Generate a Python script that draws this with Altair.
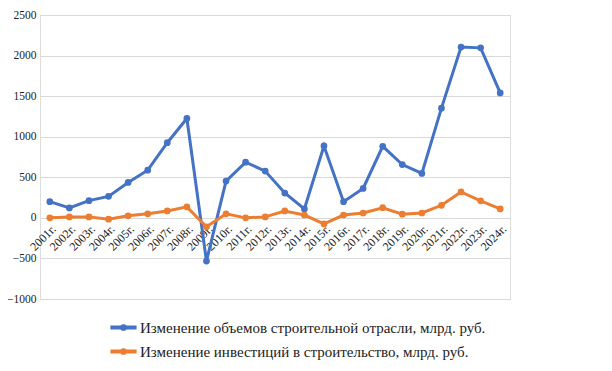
import altair as alt
import pandas as pd

years = [f"{y}г." for y in range(2001, 2025)]
construction = [200, 122, 212, 265, 436, 588, 926, 1225, -532, 453, 686, 576, 306, 110,
                886, 200, 363, 882, 657, 547, 1352, 2105, 2095, 1540]
investment = [0, 12, 12, -16, 25, 50, 85, 135, -110, 50, 0, 12, 85, 35,
              -75, 35, 60, 125, 45, 60, 155, 320, 210, 110]
series_names = ["Изменение объемов строительной отрасли, млрд. руб.",
                "Изменение инвестиций в строительство, млрд. руб."]
colors = ["#4472C4", "#ED7D31"]

rows = []
for i, y in enumerate(years):
    rows.append({"year": y, "series": series_names[0], "value": construction[i]})
    rows.append({"year": y, "series": series_names[1], "value": investment[i]})
df = pd.DataFrame(rows)

serif = "Liberation Serif"
legend_shape = ("M-1,-0.12 L1,-0.12 L1,0.12 L-1,0.12 Z "
                "M0.22,0 A0.22,0.22 0 1,1 -0.22,0 A0.22,0.22 0 1,1 0.22,0 Z")

chart = alt.Chart(df).mark_line(
    strokeWidth=3,
    point=alt.OverlayMarkDef(filled=True, size=45),
).encode(
    x=alt.X("year:N", sort=years, title=None,
            scale=alt.Scale(paddingInner=0, paddingOuter=0.5),
            axis=alt.Axis(labelAngle=-45, labelAlign="right", labelBaseline="top",
                          offset=-82, labelPadding=6, domain=False, ticks=False,
                          labelFont=serif, labelFontSize=12,
                          labelColor="#222222", grid=False)),
    y=alt.Y("value:Q", title=None,
            scale=alt.Scale(domain=[-1000, 2500], nice=False, zero=False),
            axis=alt.Axis(values=[-1000, -500, 0, 500, 1000, 1500, 2000, 2500],
                          format="d", domain=False, ticks=False, labelPadding=4,
                          labelFont=serif, labelFontSize=11.5,
                          labelColor="#222222", gridColor="#d9d9d9", gridWidth=1)),
    color=alt.Color("series:N", sort=series_names,
                    scale=alt.Scale(domain=series_names, range=colors),
                    legend=alt.Legend(title=None, orient="none", legendX=70, legendY=299,
                                      direction="vertical", symbolType=legend_shape,
                                      symbolSize=625, symbolStrokeWidth=1.2,
                                      labelFont=serif, labelFontSize=15,
                                      labelColor="#222222", labelLimit=500,
                                      rowPadding=2, padding=0, labelOffset=3)),
).properties(
    width=470, height=284,
    autosize=alt.AutoSizeParams(type="none"),
    padding={"left": 32, "top": 7, "right": 94, "bottom": 72},
).configure_view(stroke=None).configure(background="white")

chart.save("out.html", embed_options={"renderer": "svg", "actions": False})
